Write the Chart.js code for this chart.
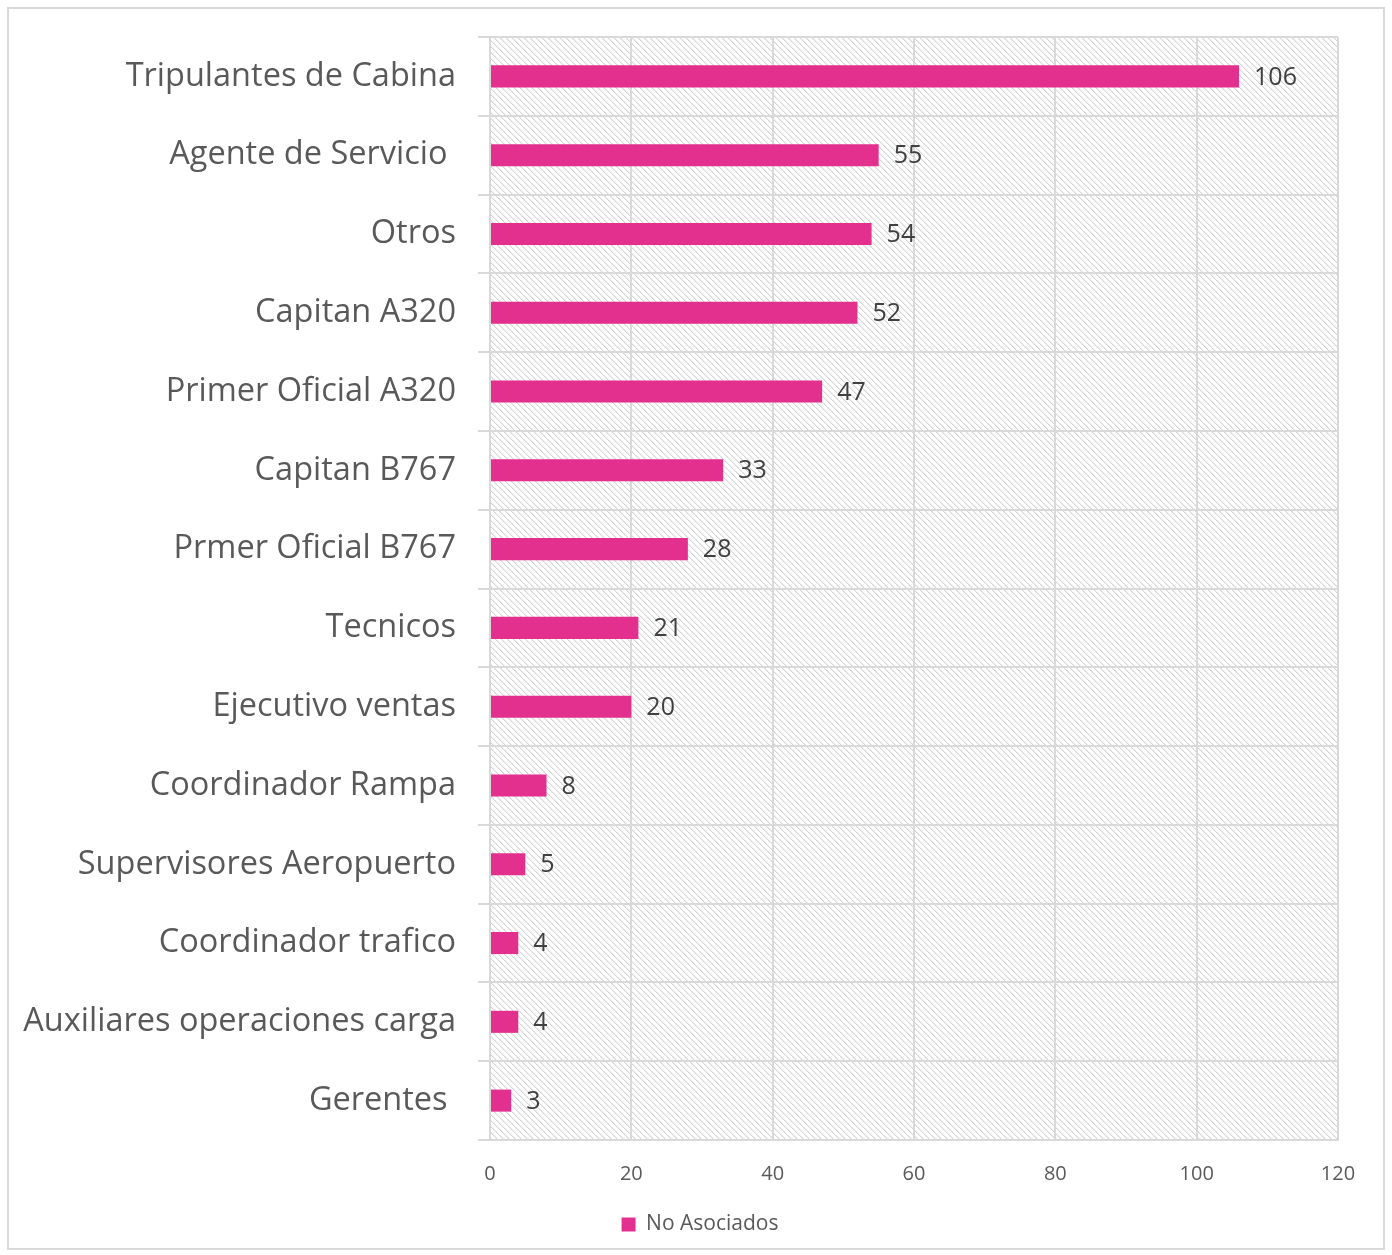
<!DOCTYPE html>
<html>
<head>
<meta charset="utf-8">
<script src="https://cdn.jsdelivr.net/npm/chart.js@4"></script>
<style>
  html, body { margin: 0; padding: 0; background: #fff; }
  #wrap { width: 1392px; height: 1255px; position: relative; }
</style>
</head>
<body>
<div id="wrap"><canvas id="chart" width="1392" height="1255"></canvas></div>
<script>
// datos
var categorias = ['Tripulantes de Cabina', 'Agente de Servicio ', 'Otros', 'Capitan A320', 'Primer Oficial A320',
    'Capitan B767', 'Prmer Oficial B767', 'Tecnicos', 'Ejecutivo ventas', 'Coordinador Rampa',
    'Supervisores Aeropuerto', 'Coordinador trafico', 'Auxiliares operaciones carga', 'Gerentes '];
var noAsociados = [106, 55, 54, 52, 47, 33, 28, 21, 20, 8, 5, 4, 4, 3];
var serie = 'No Asociados';
var ticksX = [0, 20, 40, 60, 80, 100, 120];

var fuente = '"Open Sans", "Noto Sans", sans-serif';
var rosa = '#E3308F';
var gris = '#d9d9d9';

// trama rayada del area del grafico
function hacerTrama() {
    var c = document.createElement('canvas');
    c.width = 6; c.height = 6;
    var g = c.getContext('2d');
    g.fillStyle = '#ffffff';
    g.fillRect(0, 0, 6, 6);
    g.fillStyle = '#d4d4d4';
    for (var i = 0; i < 6; i++) {
        g.fillRect(i, i, 1, 1);
    }
    g.fillStyle = '#eeeeee';
    for (var i = 0; i < 6; i++) {
        g.fillRect((i + 1) % 6, i, 1, 1);
    }
    return g.createPattern(c, 'repeat');
}

var fondo = {
    id: 'fondo',
    beforeDraw: function (chart) {
        var ctx = chart.ctx, a = chart.chartArea;
        ctx.save();
        ctx.fillStyle = '#fff';
        ctx.fillRect(0, 0, chart.width, chart.height);
        ctx.fillStyle = hacerTrama();
        ctx.fillRect(a.left, a.top, a.right - a.left, a.bottom - a.top);
        ctx.restore();
    },
    afterDraw: function (chart) {
        var ctx = chart.ctx;
        ctx.save();
        ctx.strokeStyle = gris;
        ctx.lineWidth = 2;
        ctx.strokeRect(8, 8, 1376, 1241);
        ctx.restore();
    }
};

var etiquetas = {
    id: 'etiquetas',
    afterDatasetsDraw: function (chart) {
        var ctx = chart.ctx;
        var meta = chart.getDatasetMeta(0);
        ctx.save();
        ctx.font = '25px ' + fuente;
        ctx.fillStyle = '#404040';
        ctx.textAlign = 'left';
        ctx.textBaseline = 'middle';
        meta.data.forEach(function (bar, i) {
            ctx.fillText(noAsociados[i], bar.x + 15, bar.y + 1);
        });
        ctx.restore();
    }
};

var ctx = document.getElementById('chart');
var chart = new Chart(ctx, {
    type: 'bar',
    data: {
        labels: categorias,
        datasets: [{
            label: serie,
            data: noAsociados,
            backgroundColor: rosa,
            borderWidth: 0,
            barPercentage: 0.28,
            categoryPercentage: 1
        }]
    },
    options: {
        indexAxis: 'y',
        responsive: false,
        animation: false,
        layout: { padding: { left: 8, right: 0, top: 37, bottom: 10 } },
        plugins: {
            legend: {
                position: 'bottom',
                labels: {
                    font: { family: fuente, size: 21 },
                    color: '#595959',
                    boxWidth: 14,
                    boxHeight: 14,
                    padding: 10
                }
            },
            tooltip: { enabled: false }
        },
        scales: {
            x: {
                min: 0,
                max: 120,
                afterBuildTicks: function (s) { s.ticks = ticksX.map(function (v) { return { value: v }; }); },
                grid: { color: gris, lineWidth: 2, drawTicks: false },
                border: { color: gris, width: 2 },
                ticks: { font: { family: fuente, size: 20 }, color: '#595959', padding: 22 },
                afterFit: function (s) { s.height = 64; s.paddingLeft = 0; s.paddingRight = 0; }
            },
            y: {
                grid: { color: gris, lineWidth: 2, offset: true, tickLength: 12 },
                border: { color: gris, width: 2 },
                ticks: { font: { family: fuente, size: 32.5 }, color: '#595959', padding: 22 },
                afterFit: function (s) { s.width = 482; s.paddingTop = 0; s.paddingBottom = 0; }
            },
            // eje vacio a la derecha, solo reserva el margen
            margen: {
                type: 'linear',
                position: 'right',
                grid: { display: false },
                border: { display: false },
                ticks: { display: false },
                afterFit: function (s) { s.width = 54; s.paddingTop = 0; s.paddingBottom = 0; }
            }
        }
    },
    plugins: [fondo, etiquetas]
});
</script>
</body>
</html>
